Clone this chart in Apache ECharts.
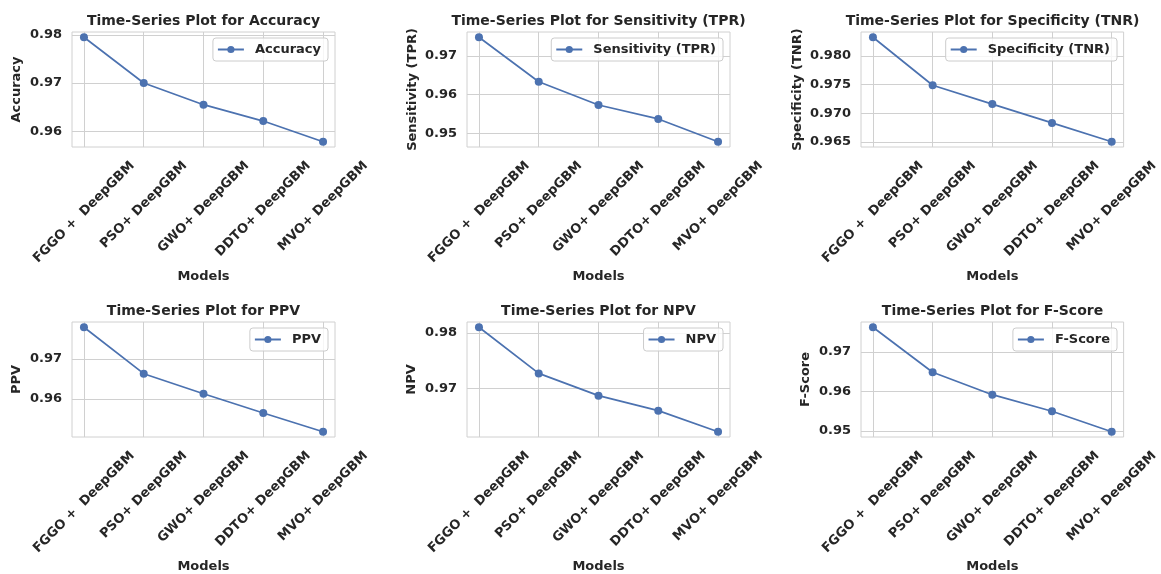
<!DOCTYPE html>
<html lang="en">
<head>
<meta charset="UTF-8">
<title>Time-Series Plots</title>
<script src="https://cdn.jsdelivr.net/npm/echarts@6/dist/echarts.min.js"></script>
</head>
<body style="margin:0">
<div id="chart" style="width:1161px;height:574px;"></div>
<script>
// model names on every x axis
const models = ['FGGO +  DeepGBM', 'PSO+ DeepGBM', 'GWO+ DeepGBM', 'DDTO+ DeepGBM', 'MVO+ DeepGBM']

// values
const accuracy = [0.9795, 0.9700, 0.9655, 0.9621, 0.9578]
const sensitivity = [0.9748, 0.9633, 0.9573, 0.9537, 0.9478]
const specificity = [0.9833, 0.9749, 0.9716, 0.9683, 0.9650]
const ppv = [0.9779, 0.9663, 0.9613, 0.9565, 0.9518]
const npv = [0.9810, 0.9727, 0.9687, 0.9660, 0.9622]
const fscore = [0.9763, 0.9649, 0.9592, 0.9550, 0.9498]

// y tick labels
const accTicks = [0.96, 0.97, 0.98]
const senTicks = [0.95, 0.96, 0.97]
const speTicks = [0.965, 0.970, 0.975, 0.980]
const ppvTicks = [0.96, 0.97]
const npvTicks = [0.97, 0.98]
const fscTicks = [0.95, 0.96, 0.97]

const panels = [
  { name: 'Accuracy', data: accuracy, ticks: accTicks, dec: 2, col: 0, row: 0, gap: 49 },
  { name: 'Sensitivity (TPR)', data: sensitivity, ticks: senTicks, dec: 2, col: 1, row: 0, gap: 48 },
  { name: 'Specificity (TNR)', data: specificity, ticks: speTicks, dec: 3, col: 2, row: 0, gap: 57 },
  { name: 'PPV', data: ppv, ticks: ppvTicks, dec: 2, col: 0, row: 1, gap: 49 },
  { name: 'NPV', data: npv, ticks: npvTicks, dec: 2, col: 1, row: 1, gap: 49 },
  { name: 'F-Score', data: fscore, ticks: fscTicks, dec: 2, col: 2, row: 1, gap: 49 },
]

const font = 'DejaVu Sans'
const txt = '#262626'
const gridColor = '#d0d0d0'
const blue = '#4c72b0'

const colLeft = [72, 467, 861]
const rowTop = [32, 322]
const plotW = 263
const plotH = 115

// rotated labels are centred on their tick like matplotlib, so shift shorter ones up
const ctx = document.createElement('canvas').getContext('2d')
ctx.font = 'bold 13px "DejaVu Sans"'
const widths = models.map(m => ctx.measureText(m).width)
const wMax = Math.max(...widths)
const rich = {}
models.forEach((m, i) => {
  const p = (wMax - widths[i]) / 2
  rich['l' + i] = { fontFamily: font, fontWeight: 'bold', fontSize: 13, color: txt, padding: [0, 0, p, p] }
})
const labelMargin = 12 + (wMax + 13) * 0.354

const idx = models.map((m, i) => i)

let mcharts = echarts.init(document.getElementById('chart'))

let option = {
  backgroundColor: '#fff',
  animation: false,
  title: panels.map(p => ({
    text: 'Time-Series Plot for ' + p.name,
    left: colLeft[p.col] + plotW / 2,
    top: rowTop[p.row] - 18,
    textAlign: 'center',
    padding: 0,
    textStyle: { fontFamily: font, fontWeight: 'bold', fontSize: 14, color: txt }
  })),
  legend: panels.map((p, i) => ({
    data: [p.name],
    right: 1161 - (colLeft[p.col] + plotW) + 7,
    top: rowTop[p.row] + 6,
    orient: 'vertical',
    padding: [5, 7, 5, 4],
    itemWidth: 26,
    itemHeight: 9,
    borderColor: '#cccccc',
    borderWidth: 1,
    borderRadius: 3,
    backgroundColor: 'rgba(255,255,255,0.8)',
    textStyle: { fontFamily: font, fontWeight: 'bold', fontSize: 13, color: txt, padding: [0, 0, 0, 6] }
  })),
  grid: panels.map(p => ({
    left: colLeft[p.col],
    top: rowTop[p.row],
    width: plotW,
    height: plotH,
    show: true,
    borderColor: gridColor,
    borderWidth: 1,
    backgroundColor: '#fff'
  })),
  xAxis: panels.map((p, i) => ({
    type: 'value',
    gridIndex: i,
    min: -0.2,
    max: models.length - 1 + 0.2,
    name: 'Models',
    nameLocation: 'middle',
    nameGap: 123,
    nameTextStyle: { fontFamily: font, fontWeight: 'bold', fontSize: 13, color: txt },
    axisLine: { show: false },
    axisTick: { show: false, customValues: idx },
    splitLine: { show: true, lineStyle: { color: gridColor, width: 1 } },
    axisLabel: {
      customValues: idx,
      rotate: 45,
      align: 'center',
      verticalAlign: 'middle',
      margin: labelMargin,
      formatter: v => '{l' + v + '|' + models[v] + '}',
      rich: rich
    }
  })),
  yAxis: panels.map((p, i) => {
    const lo = Math.min(...p.data), hi = Math.max(...p.data)
    const pad = (hi - lo) * 0.05
    return {
      type: 'value',
      gridIndex: i,
      min: lo - pad,
      max: hi + pad,
      name: p.name,
      nameLocation: 'middle',
      nameGap: p.gap,
      nameTextStyle: { fontFamily: font, fontWeight: 'bold', fontSize: 13, color: txt },
      axisLine: { show: false },
      axisTick: { show: false, customValues: p.ticks },
      splitLine: { show: true, lineStyle: { color: gridColor, width: 1 } },
      axisLabel: {
        customValues: p.ticks,
        margin: 10,
        fontFamily: font, fontWeight: 'bold', fontSize: 13, color: txt,
        formatter: v => v.toFixed(p.dec)
      }
    }
  }),
  series: panels.map((p, i) => ({
    type: 'line',
    name: p.name,
    xAxisIndex: i,
    yAxisIndex: i,
    data: p.data.map((v, k) => [k, v]),
    symbol: 'circle',
    symbolSize: 8,
    color: blue,
    lineStyle: { width: 1.7, color: blue },
    itemStyle: { color: blue }
  }))
}

mcharts.setOption(option)
</script>
</body>
</html>
